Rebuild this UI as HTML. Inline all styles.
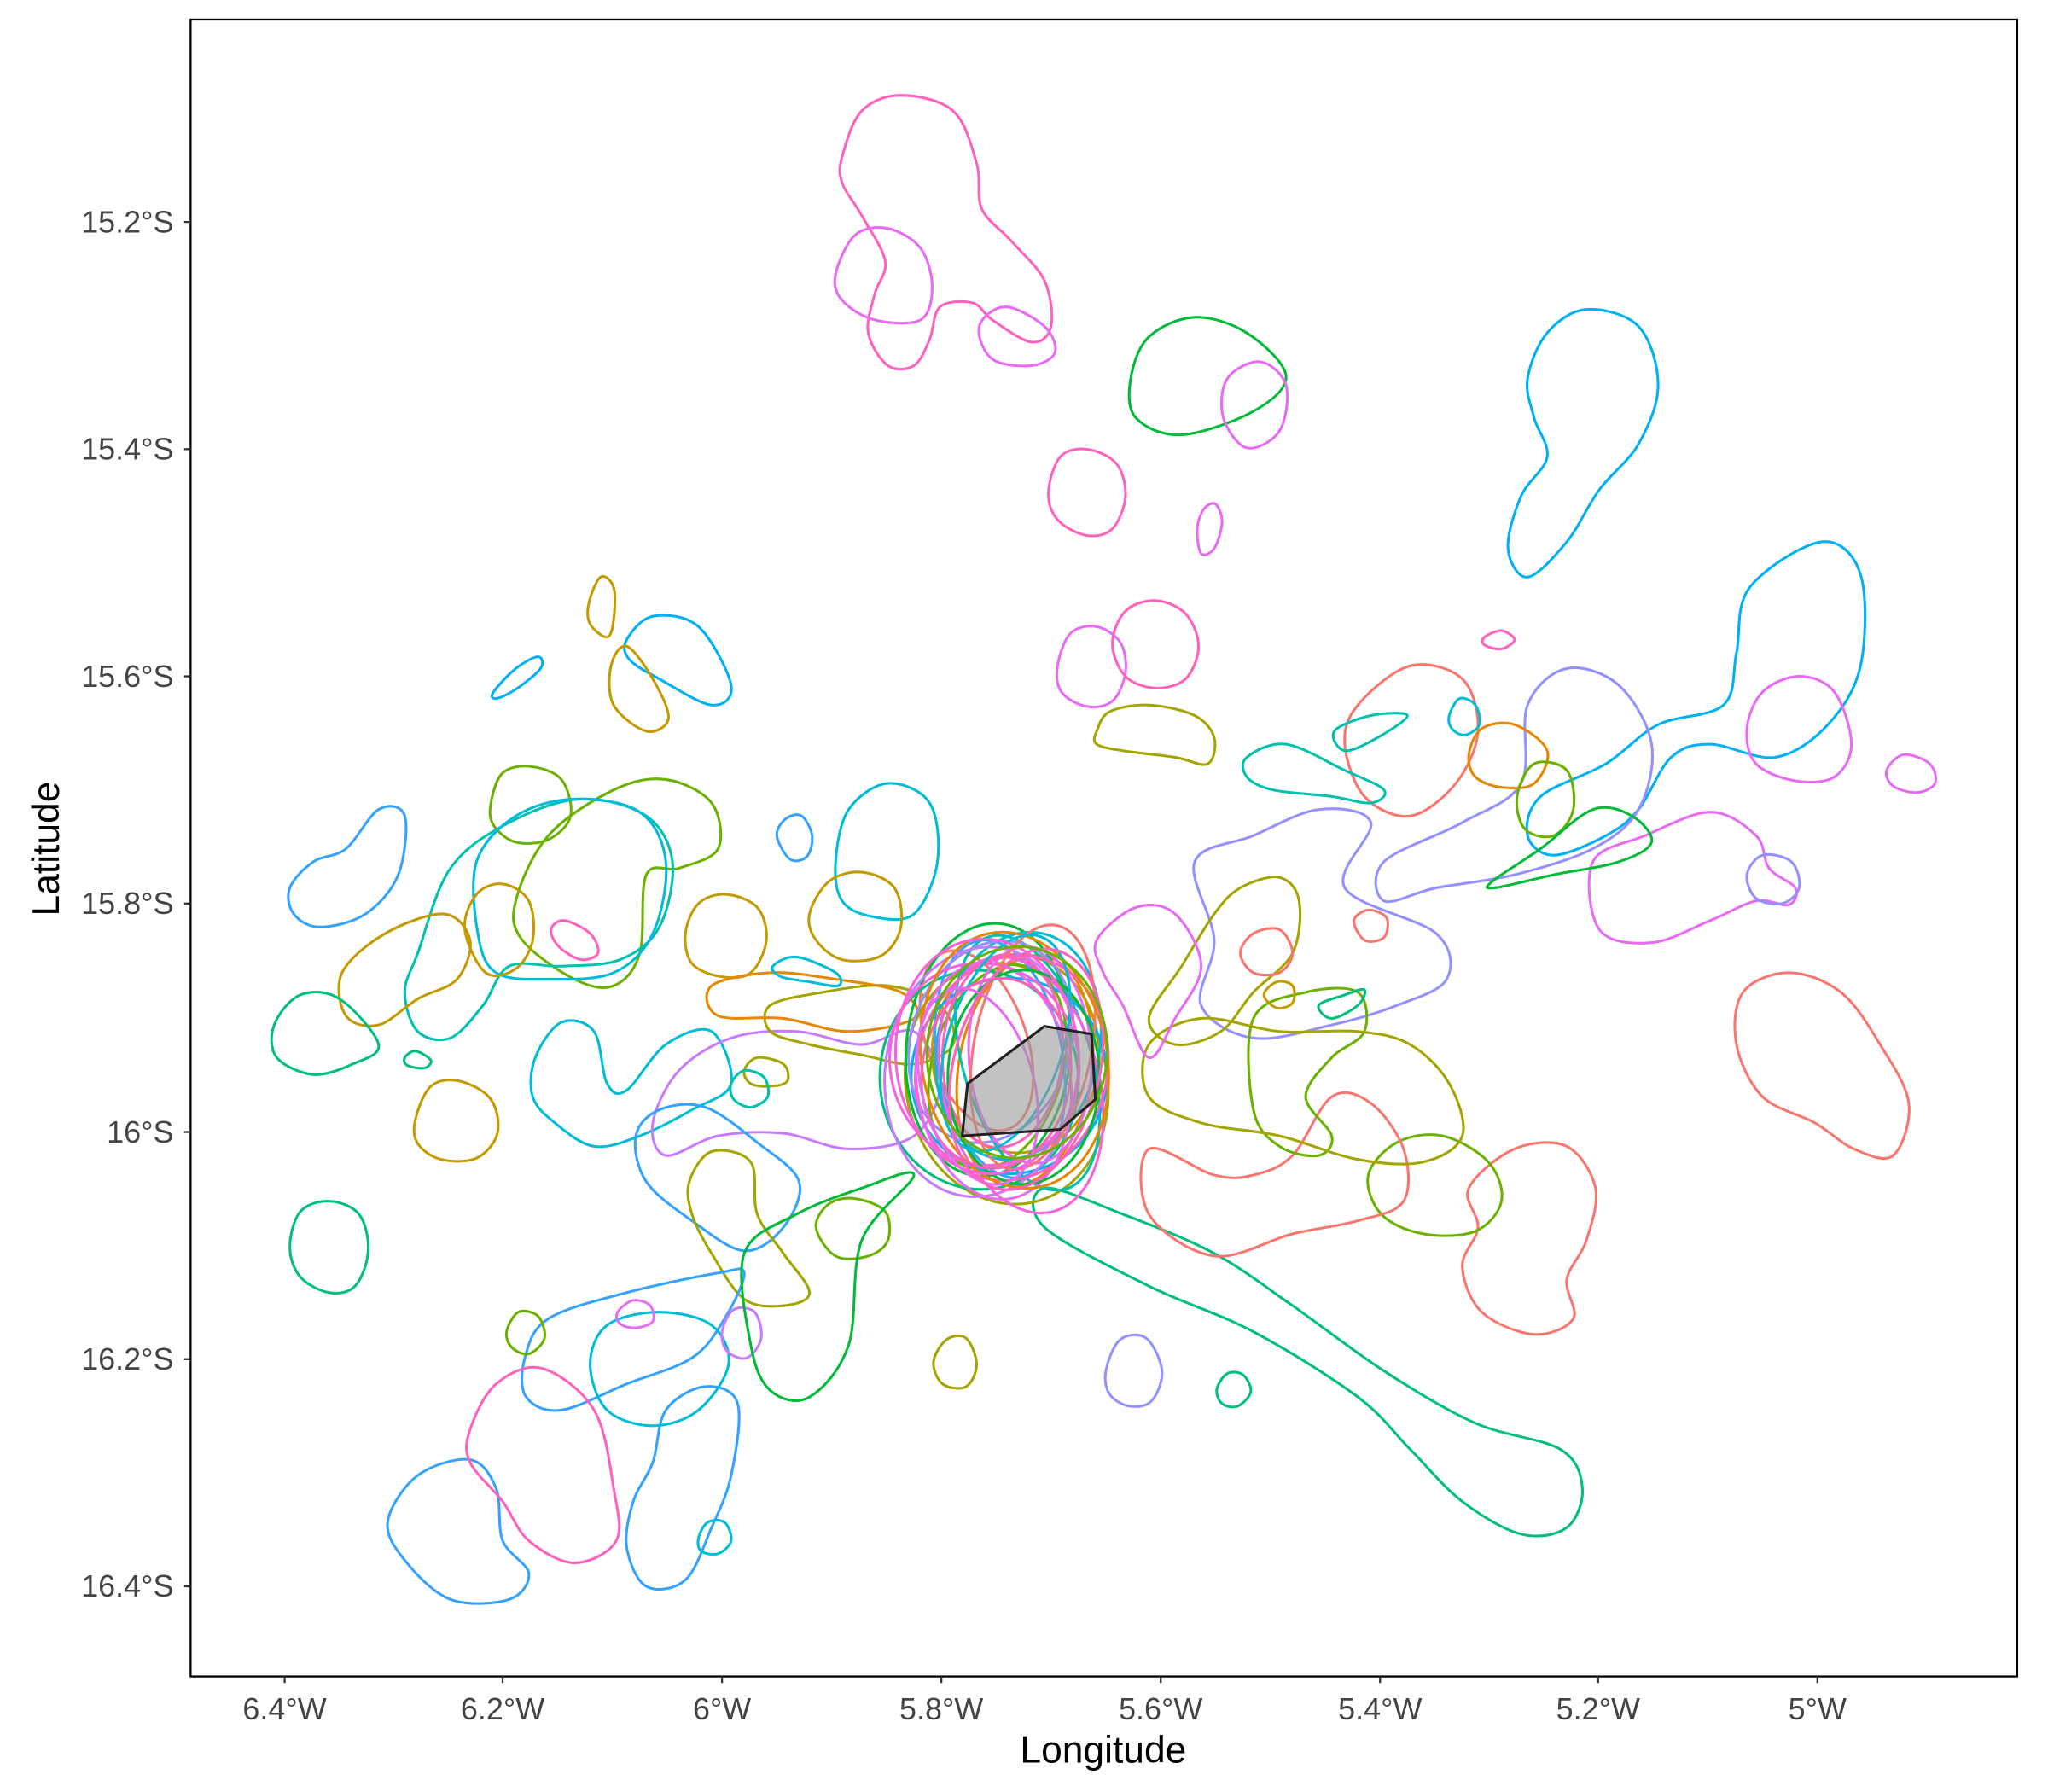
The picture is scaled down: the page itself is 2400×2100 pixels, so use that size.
<!DOCTYPE html>
<html><head><meta charset="utf-8"><style>
html,body{margin:0;padding:0;background:#fff;}
svg{display:block;}
text{font-family:"Liberation Sans",Arial,sans-serif;}
</style></head><body>
<svg id="s" width="2400" height="2100" viewBox="0 0 1568.6 1372.5" xmlns="http://www.w3.org/2000/svg">
<rect x="0" y="0" width="1568.6" height="1372.5" fill="#fff"/>
<g id="c" fill="none" stroke-width="2" stroke-linejoin="round"></g>
<polygon points="741,830 800,786 836,792 839,842 812,865 737,870" fill="#999" fill-opacity="0.6" stroke="#222" stroke-width="2"/>
<rect x="146" y="15" width="1399" height="1269" fill="none" stroke="#000" stroke-width="1.5"/>
<g stroke="#333" stroke-width="1.5">
<line x1="218" y1="1284" x2="218" y2="1289"/><line x1="385" y1="1284" x2="385" y2="1289"/><line x1="553" y1="1284" x2="553" y2="1289"/><line x1="721" y1="1284" x2="721" y2="1289"/><line x1="889" y1="1284" x2="889" y2="1289"/><line x1="1057" y1="1284" x2="1057" y2="1289"/><line x1="1224" y1="1284" x2="1224" y2="1289"/><line x1="1392" y1="1284" x2="1392" y2="1289"/>
<line x1="141" y1="170" x2="146" y2="170"/><line x1="141" y1="344" x2="146" y2="344"/><line x1="141" y1="518" x2="146" y2="518"/><line x1="141" y1="692" x2="146" y2="692"/><line x1="141" y1="867" x2="146" y2="867"/><line x1="141" y1="1041" x2="146" y2="1041"/><line x1="141" y1="1215" x2="146" y2="1215"/>
</g>
<g font-size="23.5" fill="#444" text-anchor="middle">
<text x="218" y="1317">6.4°W</text><text x="385" y="1317">6.2°W</text><text x="553" y="1317">6°W</text><text x="721" y="1317">5.8°W</text><text x="889" y="1317">5.6°W</text><text x="1057" y="1317">5.4°W</text><text x="1224" y="1317">5.2°W</text><text x="1392" y="1317">5°W</text>
</g>
<g font-size="23.5" fill="#444" text-anchor="end">
<text x="133" y="178">15.2°S</text><text x="133" y="352">15.4°S</text><text x="133" y="526">15.6°S</text><text x="133" y="700">15.8°S</text><text x="133" y="875">16°S</text><text x="133" y="1049">16.2°S</text><text x="133" y="1223">16.4°S</text>
</g>
<text x="845" y="1350" font-size="29" text-anchor="middle" fill="#000">Longitude</text>
<text x="0" y="0" font-size="29" text-anchor="middle" fill="#000" transform="translate(45,650) rotate(-90)">Latitude</text>
</svg>
<script>
var C={r:"#F8766D",o:"#E58700",ol:"#C49A00",ol2:"#A3A500",g:"#6BB100",g2:"#00BA38",t:"#00BF7D",c:"#00C0AF",c2:"#00BCD8",b:"#00B0F6",b2:"#35A2FF",p:"#9590FF",p2:"#C77CFF",m:"#E76BF3",pk:"#FA62DB",pk2:"#FF62BC"};
var S=[
["pk2",[645,120,660,85,690,73,730,85,748,125,752,160,775,185,800,215,805,250,790,262,760,245,745,232,720,235,712,260,700,280,680,280,665,255,670,225,678,200,660,165,645,140]],
["m",[640,210,655,180,680,175,705,190,714,220,705,245,670,245,645,230]],
["m",[750,250,770,235,800,250,808,270,790,280,760,275]],
["g2",[866,290,880,258,915,243,955,255,985,288,960,315,905,333,870,320]],
["m",[940,290,965,277,985,295,980,330,955,343,937,320]],
["pk2",[803,377,812,350,832,344,855,355,862,380,852,405,832,410,810,398]],
["m",[917,405,922,390,931,386,936,400,930,420,920,424]],
["b",[1170,290,1185,255,1215,237,1255,250,1270,295,1255,340,1225,375,1200,415,1170,442,1155,420,1165,380,1185,350,1175,320]],
["b",[1330,500,1340,450,1395,415,1425,440,1425,510,1400,555,1360,580,1310,570,1280,580,1255,620,1230,640,1190,655,1170,640,1180,610,1230,585,1270,555,1320,540]],
["m",[1338,558,1350,530,1378,518,1405,530,1418,570,1405,595,1375,598,1345,585]],
["m",[1220,660,1260,640,1310,622,1345,640,1355,665,1375,680,1370,693,1345,690,1310,705,1265,722,1225,712]],
["p",[1060,660,1120,630,1165,600,1170,540,1200,512,1240,525,1265,570,1255,620,1220,650,1160,670,1100,680,1060,690]],
["r",[1030,570,1040,540,1080,510,1120,520,1132,560,1115,600,1080,625,1045,610]],
["c",[955,580,985,570,1030,590,1060,605,1050,615,1020,610,975,605,955,595]],
["c",[1022,560,1050,548,1078,548,1055,565,1030,575]],
["o",[1125,578,1135,558,1160,555,1185,575,1175,600,1150,603,1130,595]],
["g",[1162,610,1175,585,1200,590,1205,620,1190,640,1168,635]],
["r",[1335,760,1370,745,1410,760,1440,800,1462,845,1450,885,1420,880,1390,860,1350,840,1330,800]],
["r",[1125,910,1160,880,1200,878,1222,910,1215,950,1200,980,1205,1010,1175,1022,1135,1005,1120,970,1132,940]],
["g",[1048,900,1070,875,1105,870,1140,890,1150,920,1130,943,1090,945,1058,930]],
["t",[800,910,860,930,930,960,990,1000,1060,1050,1130,1090,1195,1110,1212,1140,1200,1170,1165,1175,1120,1150,1080,1110,1040,1070,960,1020,880,985,800,940]],
["r",[880,880,930,900,960,900,990,885,1020,840,1050,845,1075,880,1075,920,1040,935,990,945,930,962,880,930]],
["pk2",[1137,488,1150,483,1160,490,1150,497,1137,494]],
["m",[1445,590,1458,578,1478,585,1482,600,1468,607,1450,602]],
["p",[1338,670,1350,655,1372,660,1378,680,1365,692,1345,688]],
["c2",[1110,548,1118,535,1130,540,1133,555,1122,563,1112,558]],
["ol",[451,462,460,442,470,450,470,475,465,488,452,478]],
["b",[480,490,500,472,535,480,560,525,545,540,505,520,482,505]],
["ol",[468,510,480,495,500,520,512,550,495,560,470,540]],
["b",[378,530,395,512,412,503,414,512,395,528,380,535]],
["g",[376,615,385,592,406,587,430,597,437,625,420,643,395,645,378,632]],
["g",[395,690,420,640,470,605,510,597,545,615,550,650,520,665,495,670,490,730,470,755,440,750,400,720]],
["c",[320,730,345,665,390,630,445,612,495,625,515,660,505,710,475,735,430,740,390,740,370,770,345,795,320,790,310,760]],
["c2",[365,660,395,625,440,612,490,622,510,660,500,715,470,745,420,750,380,745,366,715]],
["b2",[222,680,240,660,265,650,290,620,310,625,305,670,280,700,245,710,225,700]],
["ol",[262,745,295,715,340,700,360,720,350,750,320,765,290,785,265,778]],
["ol",[356,712,365,685,385,677,405,690,408,720,395,742,372,745]],
["pk2",[422,712,432,705,452,715,458,730,445,735,428,725]],
["t",[210,785,230,762,260,765,290,800,270,815,240,823,212,810]],
["t",[310,810,318,805,330,812,325,818,312,816]],
["ol",[318,858,330,832,352,828,376,842,381,868,365,887,338,888,320,876]],
["t",[222,955,230,928,252,920,275,930,282,958,272,985,252,990,230,978]],
["ol",[525,715,535,692,556,685,580,695,587,720,575,745,552,748,530,738]],
["b2",[595,640,602,627,614,625,622,640,618,656,605,658]],
["c2",[640,660,650,620,680,600,712,615,718,660,700,700,668,702,645,690]],
["ol",[620,700,635,675,660,668,685,680,690,710,675,732,645,735,625,720]],
["c2",[410,810,430,783,455,790,465,830,480,835,510,800,545,790,560,830,530,850,490,870,455,878,425,860,408,840]],
["p2",[500,860,520,820,560,795,610,790,660,800,700,790,720,830,700,870,650,880,600,868,550,870,510,885]],
["b2",[487,870,505,850,540,848,580,875,612,905,600,940,570,958,530,935,495,905]],
["ol2",[528,905,545,882,575,890,580,930,600,960,620,990,600,1000,570,995,545,960,530,930]],
["g",[625,940,635,922,655,918,678,928,680,950,665,962,640,962]],
["b2",[402,1040,420,1010,480,990,550,975,570,975,555,1010,530,1040,480,1060,430,1080,403,1070]],
["b2",[297,1165,320,1130,360,1118,380,1140,385,1180,405,1205,390,1225,345,1225,310,1195]],
["pk2",[360,1095,380,1060,415,1048,455,1080,470,1140,472,1180,440,1197,405,1180,385,1150,360,1120]],
["b2",[485,1150,500,1120,510,1080,540,1062,565,1075,560,1130,545,1170,525,1210,495,1215,480,1185]],
["c2",[452,1045,465,1015,505,1005,545,1015,558,1045,535,1080,500,1092,465,1080]],
["g",[388,1020,397,1005,412,1008,417,1025,405,1037,392,1032]],
["m",[473,1005,485,996,498,1000,500,1012,487,1017,475,1014]],
["p2",[553,1020,562,1003,578,1005,583,1025,572,1040,557,1035]],
["c2",[535,1178,542,1166,555,1166,560,1180,550,1190,537,1188]],
["ol2",[715,1043,725,1026,740,1025,748,1045,740,1062,722,1060]],
["p",[847,1050,858,1026,878,1025,890,1050,882,1073,865,1077,850,1068]],
["t",[932,1064,940,1052,952,1053,958,1066,948,1077,936,1075]],
["g2",[570,960,610,930,660,910,700,900,660,950,650,1030,620,1070,590,1065,575,1030]],
["ol2",[840,560,850,545,880,540,915,548,930,565,925,585,900,580,860,575,840,570]],
["m",[810,510,820,485,840,480,858,492,862,515,852,537,832,541,813,530]],
["pk2",[852,493,862,468,885,460,908,470,918,495,908,520,885,527,862,518]],
["p",[915,660,960,640,1010,620,1050,630,1030,680,1100,715,1108,750,1070,770,1020,785,960,795,920,770,930,720]],
["ol2",[930,700,950,680,980,672,995,690,990,730,960,760,935,790,900,800,880,780,905,740]],
["g",[960,780,1000,760,1040,760,1045,790,1020,810,1000,840,1020,870,1010,885,980,878,960,850]],
["r",[950,730,960,715,980,712,990,730,980,745,960,745]],
["r",[1037,705,1048,697,1062,703,1060,718,1045,720]],
["ol",[968,762,978,752,990,755,990,768,978,772]],
["ol2",[590,770,630,760,680,755,720,770,730,800,700,815,660,808,620,800,590,790]],
["o",[545,755,590,745,640,750,690,760,700,780,650,790,600,780,550,778]],
["c2",[592,740,610,733,640,745,642,755,620,752,598,748]],
["ol2",[880,800,920,780,980,790,1040,790,1080,800,1110,830,1120,870,1090,890,1040,888,980,870,920,860,880,840]],
["m",[840,720,870,695,900,700,920,740,900,780,880,810,860,770,845,745]],
["ol2",[570,820,580,810,600,815,603,828,590,832,575,830]],
["c",[560,830,570,820,585,825,588,840,575,848,562,842]],
["t",[1010,770,1030,762,1045,758,1040,770,1020,780]],
["g2",[1143,675,1180,650,1220,620,1250,625,1265,645,1240,660,1190,670,1145,680]]
];
function cr(p){var n=p.length/2,pts=[];for(var i=0;i<n;i++)pts.push([p[2*i],p[2*i+1]]);
var d="M"+pts[0][0]+","+pts[0][1];
for(var i=0;i<n;i++){var p0=pts[(i-1+n)%n],p1=pts[i],p2=pts[(i+1)%n],p3=pts[(i+2)%n];
d+="C"+(p1[0]+(p2[0]-p0[0])/6).toFixed(1)+","+(p1[1]+(p2[1]-p0[1])/6).toFixed(1)+" "+(p2[0]-(p3[0]-p1[0])/6).toFixed(1)+","+(p2[1]-(p3[1]-p1[1])/6).toFixed(1)+" "+p2[0]+","+p2[1];}
return d+"Z";}
var g=document.getElementById("c"),h="";
S.forEach(function(s){h+='<path stroke="'+C[s[0]]+'" d="'+cr(s[1])+'"/>';});
var keys=["r","o","ol","ol2","g","g2","t","c","c2","b","b2","p","p2","m","pk","pk2","pk2","m","pk","r","g2","o","c2","pk2","pk","m","pk2","g"];
for(var i=0;i<keys.length;i++){var cx=770+((i*37)%44)-22,cy=815+((i*23)%36)-18,rx=38+((i*13)%40),ry=72+((i*17)%30),a=-20+((i*29)%40);
h+='<ellipse stroke="'+C[keys[i]]+'" cx="'+cx+'" cy="'+cy+'" rx="'+rx+'" ry="'+ry+'" transform="rotate('+a+' '+cx+' '+cy+')"/>';}
g.innerHTML=h;
</script>
</body></html>
